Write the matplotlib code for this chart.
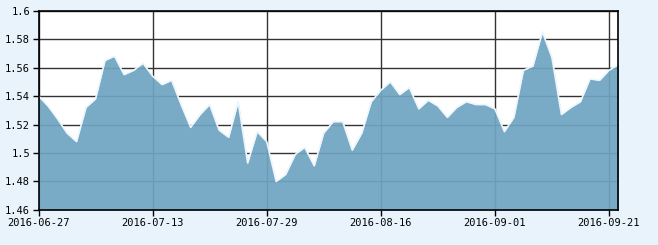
import matplotlib
matplotlib.use("Agg")
import matplotlib.pyplot as plt
import numpy as np
import pandas as pd

# trading days (mid-autumn holiday removed)
dates = pd.bdate_range("2016-06-27", "2016-09-22")
dates = dates[~dates.isin(pd.to_datetime(["2016-09-15", "2016-09-16"]))]
labels = [d.strftime("%Y-%m-%d") for d in dates]

values = [1.540, 1.533, 1.524, 1.514, 1.508, 1.532, 1.538, 1.565, 1.568, 1.555,
          1.558, 1.563, 1.554, 1.548, 1.551, 1.534, 1.518, 1.527, 1.534, 1.516,
          1.511, 1.536, 1.493, 1.515, 1.508, 1.480, 1.485, 1.499, 1.504, 1.491,
          1.514, 1.522, 1.522, 1.502, 1.514, 1.536, 1.544, 1.550, 1.541, 1.546,
          1.531, 1.537, 1.533, 1.525, 1.532, 1.536, 1.534, 1.534, 1.531, 1.515,
          1.525, 1.558, 1.561, 1.585, 1.567, 1.527, 1.532, 1.536, 1.552, 1.551,
          1.558, 1.562]

yticks = [1.46, 1.48, 1.5, 1.52, 1.54, 1.56, 1.58, 1.6]
ytick_labels = ["1.46", "1.48", "1.5", "1.52", "1.54", "1.56", "1.58", "1.6"]
xtick_idx = [0, 12, 24, 36, 48, 60]

bg = "#e8f3fb"
fig = plt.figure(figsize=(6.58, 2.45), dpi=100, facecolor=bg)
ax = fig.add_axes([38.5 / 658, 35 / 245, 580 / 658, 199.5 / 245])
ax.set_facecolor("white")

x = np.arange(len(values))
ax.fill_between(x, 1.46, values, color="#6fa5c3", alpha=0.93, lw=0, zorder=3)
ax.plot(x, values, color="#eef6fc", lw=1.2, zorder=4)

ax.set_xlim(0, len(values) - 1)
ax.set_ylim(1.46, 1.6)
ax.set_yticks(yticks)
ax.set_yticklabels(ytick_labels)
ax.set_xticks(xtick_idx)
ax.set_xticklabels([labels[i] for i in xtick_idx])
ax.grid(True, color="#333333", lw=1, zorder=1)
ax.set_axisbelow(True)

for s in ax.spines.values():
    s.set_color("black")
    s.set_linewidth(1.2)
    s.set_zorder(5)

ax.tick_params(axis="both", direction="out", length=4, width=1, color="black",
               labelsize=7.5, pad=2)
for t in ax.get_xticklabels() + ax.get_yticklabels():
    t.set_family("DejaVu Sans Mono")

fig.savefig("out.png", dpi=100, facecolor=bg)
